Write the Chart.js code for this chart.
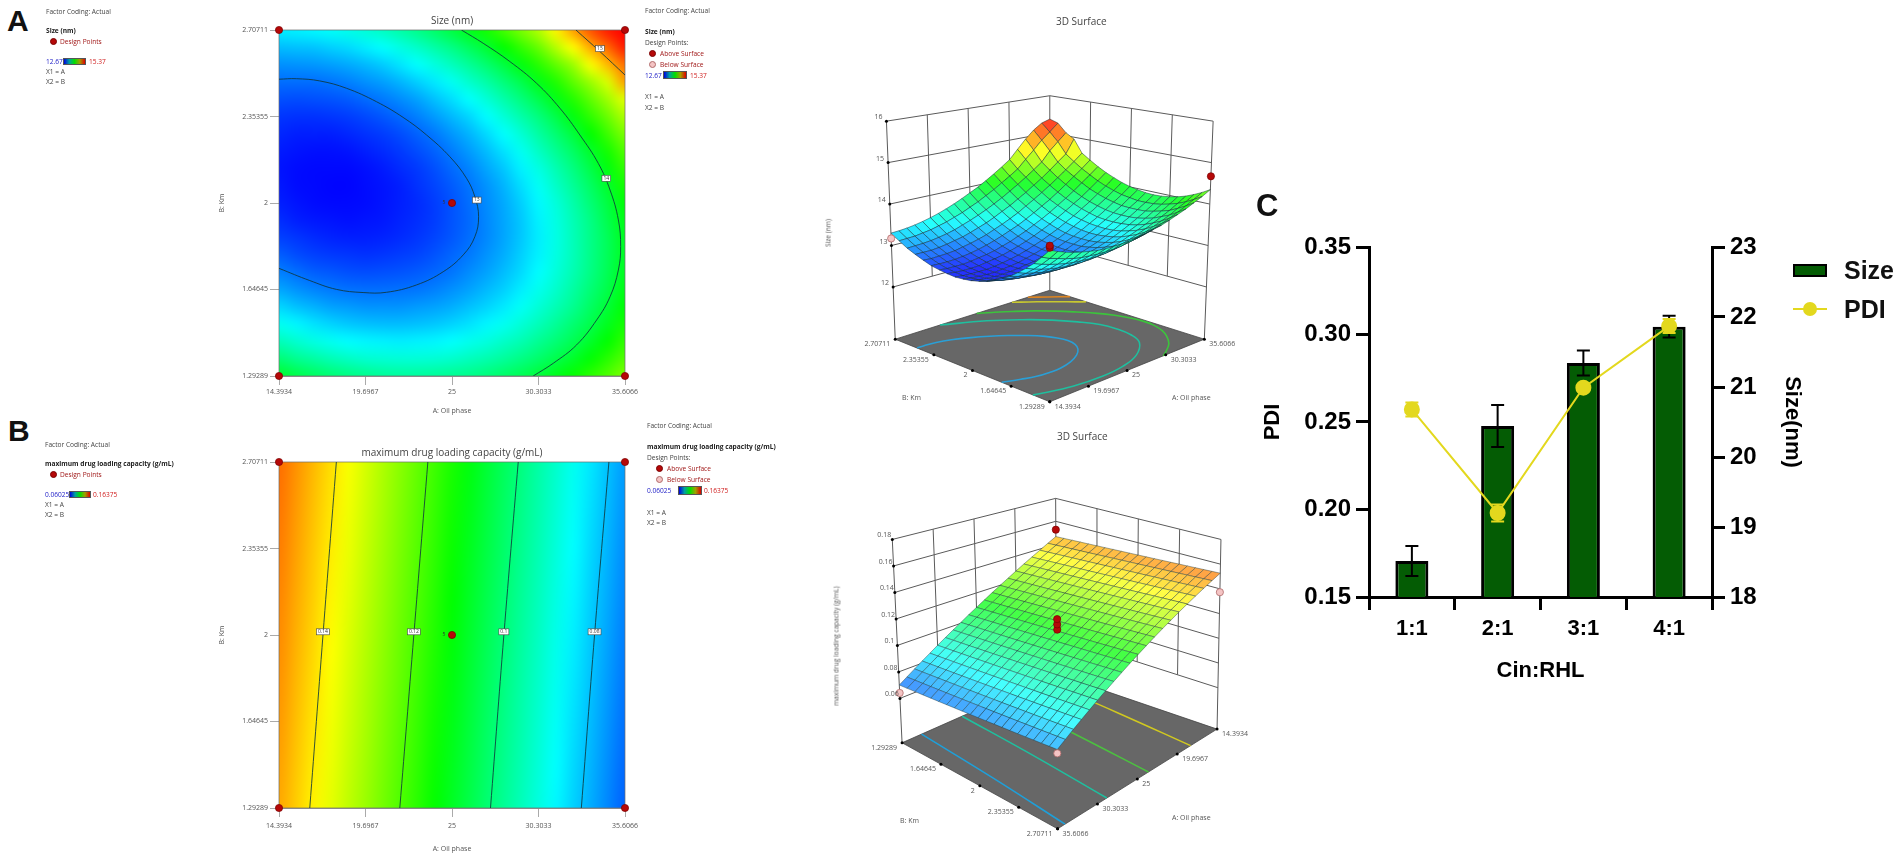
<!DOCTYPE html>
<html>
<head>
<meta charset="utf-8">
<title>Response surfaces and Cin:RHL</title>
<script src="https://cdn.jsdelivr.net/npm/chart.js@4"></script>
<style>
html, body { margin: 0; background: #fff; overflow: hidden; }
body { width: 1902px; height: 860px; position: relative; font-family: "Open Sans", sans-serif; }
canvas { position: absolute; }
.soft { filter: blur(0.45px); }
.t { position: absolute; white-space: nowrap; font-size: 6.6px; color: #444; transform: translateY(-50%); filter: blur(0.3px); }
.big { font-family: "Liberation Sans", sans-serif; font-weight: bold; color: #111; filter: none; }
.rot { transform: translate(-50%, -50%) rotate(-90deg); }
.swatch { position: absolute; }
</style>
</head>
<body>
<script>
// axis ticks shared by all response surface panels
const oilTicks = [14.3934, 19.6967, 25, 30.3033, 35.6066];
const kmTicks = [1.29289, 1.64645, 2, 2.35355, 2.70711];
const designOil = [14.3934, 14.3934, 35.6066, 35.6066, 25];
const designKm = [1.29289, 2.70711, 1.29289, 2.70711, 2];

// Panel C
const ratios = ["1:1", "2:1", "3:1", "4:1"];
const sizeBars = [0.1706, 0.2477, 0.2837, 0.3045];
const sizeBarsErr = [0.0086, 0.012, 0.0071, 0.0062];
const pdiLine = [20.68, 19.2, 20.99, 21.87];
const pdiLineErr = [0.1, 0.12, 0.05, 0.1];

// Size surface, rows go from km low to km high, columns from oil low to oil high
const sizeGrid = [
[13.90,13.83,13.77,13.72,13.68,13.65,13.62,13.61,13.61,13.62,13.64,13.66,13.70,13.75,13.80,13.87,13.95,14.03,14.13,14.23,14.35],
[13.71,13.64,13.59,13.54,13.50,13.47,13.46,13.45,13.45,13.46,13.48,13.52,13.56,13.61,13.67,13.74,13.82,13.91,14.01,14.12,14.24],
[13.53,13.47,13.42,13.38,13.34,13.32,13.31,13.30,13.31,13.32,13.35,13.39,13.43,13.49,13.55,13.63,13.71,13.80,13.91,14.02,14.15],
[13.38,13.32,13.27,13.23,13.20,13.18,13.17,13.17,13.18,13.20,13.23,13.27,13.32,13.38,13.45,13.53,13.62,13.72,13.82,13.94,14.07],
[13.24,13.18,13.14,13.10,13.08,13.06,13.06,13.06,13.08,13.10,13.13,13.18,13.23,13.29,13.37,13.45,13.54,13.64,13.76,13.88,14.01],
[13.11,13.06,13.02,12.99,12.97,12.96,12.96,12.97,12.98,13.01,13.05,13.10,13.16,13.22,13.30,13.39,13.48,13.59,13.71,13.83,13.97],
[13.01,12.96,12.92,12.90,12.88,12.87,12.88,12.89,12.91,12.94,12.98,13.04,13.10,13.17,13.25,13.34,13.44,13.55,13.67,13.80,13.94],
[12.92,12.87,12.84,12.82,12.81,12.80,12.81,12.83,12.85,12.89,12.94,12.99,13.06,13.13,13.22,13.31,13.42,13.53,13.66,13.79,13.93],
[12.84,12.81,12.78,12.76,12.75,12.75,12.76,12.78,12.81,12.85,12.90,12.96,13.03,13.11,13.20,13.30,13.41,13.53,13.66,13.79,13.94],
[12.79,12.75,12.73,12.72,12.71,12.72,12.73,12.76,12.79,12.83,12.89,12.95,13.03,13.11,13.20,13.31,13.42,13.54,13.67,13.82,13.97],
[12.75,12.72,12.70,12.69,12.69,12.70,12.72,12.75,12.78,12.83,12.89,12.96,13.04,13.12,13.22,13.33,13.44,13.57,13.71,13.85,14.01],
[12.73,12.70,12.69,12.68,12.68,12.70,12.72,12.75,12.80,12.85,12.91,12.98,13.06,13.15,13.26,13.37,13.49,13.62,13.76,13.91,14.07],
[12.72,12.70,12.69,12.69,12.69,12.71,12.74,12.78,12.82,12.88,12.95,13.02,13.11,13.20,13.31,13.42,13.55,13.68,13.83,13.98,14.15],
[12.74,12.72,12.71,12.71,12.72,12.75,12.78,12.82,12.87,12.93,13.00,13.08,13.17,13.27,13.38,13.50,13.63,13.76,13.91,14.07,14.24],
[12.77,12.75,12.75,12.75,12.77,12.80,12.83,12.87,12.93,12.99,13.07,13.15,13.25,13.35,13.46,13.59,13.72,13.86,14.02,14.18,14.35],
[12.81,12.80,12.80,12.81,12.83,12.86,12.90,12.95,13.01,13.08,13.16,13.24,13.34,13.45,13.57,13.69,13.83,13.98,14.14,14.30,14.48],
[12.88,12.87,12.88,12.89,12.91,12.95,12.99,13.04,13.10,13.18,13.26,13.35,13.45,13.57,13.69,13.82,13.96,14.11,14.27,14.44,14.62],
[12.96,12.96,12.96,12.98,13.01,13.05,13.09,13.15,13.22,13.29,13.38,13.48,13.58,13.70,13.82,13.96,14.10,14.26,14.43,14.60,14.95],
[13.05,13.06,13.07,13.09,13.12,13.16,13.21,13.28,13.35,13.43,13.52,13.62,13.73,13.85,13.98,14.12,14.27,14.43,14.68,14.88,15.08],
[13.17,13.18,13.19,13.22,13.25,13.30,13.35,13.42,13.49,13.58,13.67,13.78,13.89,14.02,14.15,14.29,14.50,14.70,14.92,15.10,15.30],
[13.30,13.31,13.33,13.36,13.40,13.45,13.51,13.58,13.66,13.75,13.85,13.95,14.07,14.20,14.34,14.49,14.72,14.95,15.15,15.30,15.37]
];

// Drug loading surface, same layout
const loadGrid = [
[.1467,.1429,.1390,.1352,.1314,.1276,.1237,.1199,.1161,.1122,.1084,.1046,.1007,.0969,.0931,.0893,.0854,.0816,.0778,.0739,.0701],
[.1470,.1432,.1393,.1355,.1317,.1279,.1240,.1202,.1164,.1125,.1087,.1049,.1010,.0972,.0934,.0896,.0857,.0819,.0781,.0742,.0704],
[.1473,.1435,.1396,.1358,.1320,.1282,.1243,.1205,.1167,.1128,.1090,.1052,.1013,.0975,.0937,.0899,.0860,.0822,.0784,.0745,.0707],
[.1476,.1438,.1399,.1361,.1323,.1285,.1246,.1208,.1170,.1131,.1093,.1055,.1016,.0978,.0940,.0902,.0863,.0825,.0787,.0748,.0710],
[.1479,.1441,.1402,.1364,.1326,.1288,.1249,.1211,.1173,.1134,.1096,.1058,.1019,.0981,.0943,.0905,.0866,.0828,.0790,.0751,.0713],
[.1482,.1444,.1405,.1367,.1329,.1291,.1252,.1214,.1176,.1137,.1099,.1061,.1022,.0984,.0946,.0908,.0869,.0831,.0793,.0754,.0716],
[.1485,.1447,.1408,.1370,.1332,.1294,.1255,.1217,.1179,.1140,.1102,.1064,.1025,.0987,.0949,.0911,.0872,.0834,.0796,.0757,.0719],
[.1488,.1450,.1411,.1373,.1335,.1297,.1258,.1220,.1182,.1143,.1105,.1067,.1028,.0990,.0952,.0914,.0875,.0837,.0799,.0760,.0722],
[.1491,.1453,.1414,.1376,.1338,.1300,.1261,.1223,.1185,.1146,.1108,.1070,.1031,.0993,.0955,.0917,.0878,.0840,.0802,.0763,.0725],
[.1494,.1456,.1417,.1379,.1341,.1303,.1264,.1226,.1188,.1149,.1111,.1073,.1034,.0996,.0958,.0920,.0881,.0843,.0805,.0766,.0728],
[.1497,.1459,.1420,.1382,.1344,.1306,.1267,.1229,.1191,.1152,.1114,.1076,.1037,.0999,.0961,.0923,.0884,.0846,.0808,.0769,.0731],
[.1500,.1462,.1423,.1385,.1347,.1309,.1270,.1232,.1194,.1155,.1117,.1079,.1040,.1002,.0964,.0926,.0887,.0849,.0811,.0772,.0734],
[.1503,.1465,.1426,.1388,.1350,.1312,.1273,.1235,.1197,.1158,.1120,.1082,.1043,.1005,.0967,.0929,.0890,.0852,.0814,.0775,.0737],
[.1506,.1468,.1429,.1391,.1353,.1315,.1276,.1238,.1200,.1161,.1123,.1085,.1046,.1008,.0970,.0932,.0893,.0855,.0817,.0778,.0740],
[.1509,.1471,.1432,.1394,.1356,.1318,.1279,.1241,.1203,.1164,.1126,.1088,.1049,.1011,.0973,.0935,.0896,.0858,.0820,.0781,.0743],
[.1512,.1474,.1435,.1397,.1359,.1321,.1282,.1244,.1206,.1167,.1129,.1091,.1052,.1014,.0976,.0938,.0899,.0861,.0823,.0784,.0746],
[.1515,.1477,.1438,.1400,.1362,.1324,.1285,.1247,.1209,.1170,.1132,.1094,.1055,.1017,.0979,.0941,.0902,.0864,.0826,.0787,.0749],
[.1518,.1480,.1441,.1403,.1365,.1327,.1288,.1250,.1212,.1173,.1135,.1097,.1058,.1020,.0982,.0944,.0905,.0867,.0829,.0790,.0752],
[.1521,.1483,.1444,.1406,.1368,.1330,.1291,.1253,.1215,.1176,.1138,.1100,.1061,.1023,.0985,.0947,.0908,.0870,.0832,.0793,.0755],
[.1524,.1486,.1447,.1409,.1371,.1333,.1294,.1256,.1218,.1179,.1141,.1103,.1064,.1026,.0988,.0950,.0911,.0873,.0835,.0796,.0758],
[.1527,.1489,.1450,.1412,.1374,.1336,.1297,.1259,.1221,.1182,.1144,.1106,.1067,.1029,.0991,.0953,.0914,.0876,.0838,.0799,.0761]
];

// contour lines
const size13Oil = [14.39,15.46,16.89,18.53,20.37,22.00,23.44,24.87,25.89,26.40,26.63,26.40,25.69,24.46,22.82,20.98,19.55,17.91,16.28,14.39];
const size13Km = [2.506,2.508,2.499,2.469,2.414,2.350,2.278,2.189,2.101,2.026,1.944,1.862,1.788,1.719,1.665,1.635,1.634,1.647,1.683,1.733];
const size14Oil = [25.58,26.91,28.55,30.19,31.62,32.84,33.97,34.69,35.20,35.34,35.20,34.69,33.87,32.64,31.21,29.98];
const size14Km = [2.707,2.653,2.578,2.489,2.387,2.278,2.162,2.053,1.931,1.822,1.726,1.617,1.522,1.420,1.345,1.293];
const size15Oil = [32.60,34.07,35.61];
const size15Km = [2.707,2.619,2.523];
// extra levels only shown on the 3D floor
const size135Oil = [14.39,14.92,18.64,22.35,25.53,28.39,30.94,31.89,32.11,31.89,30.94,29.56,27.55,24.79,20.55];
const size135Km = [1.448,1.434,1.364,1.342,1.364,1.434,1.576,1.717,1.859,2,2.141,2.283,2.424,2.566,2.707];
const size145Oil = [30.41,31.68,32.85,33.91,34.86,35.61];
const size145Km = [2.707,2.636,2.566,2.495,2.424,2.375];

const load14Oil = [17.91,17.09,16.28];
const load12Oil = [23.52,22.66,21.80];
const load10Oil = [29.06,28.18,27.36];
const load08Oil = [34.62,33.74,32.93];
const loadLineKm = [2.70711,2,1.29289];

const sizeZTicks = [12,13,14,15,16];
const loadZTicks = [0.06,0.08,0.1,0.12,0.14,0.16,0.18];

const zip = (xs, ys) => xs.map((x, i) => ({ x: x, y: ys[i] }));

function jet(t) {
  const stops = [[0,0,255],[0,255,255],[0,255,0],[255,255,0],[255,0,0]];
  t = Math.max(0, Math.min(1, t)) * 4;
  const i = Math.min(3, Math.floor(t)), f = t - i;
  return stops[i].map((c, k) => Math.round(c + (stops[i + 1][k] - c) * f));
}

function addCanvas(left, top, w, h, soft) {
  const c = document.createElement("canvas");
  c.width = w; c.height = h;
  c.style.left = left + "px"; c.style.top = top + "px";
  c.style.width = w + "px"; c.style.height = h + "px";
  if (soft) c.className = "soft";
  document.body.appendChild(c);
  return c;
}

function text(x, y, str, css, cls) {
  const d = document.createElement("div");
  d.className = "t" + (cls ? " " + cls : "");
  d.textContent = str;
  d.style.left = x + "px"; d.style.top = y + "px";
  if (css) d.style.cssText += css;
  document.body.appendChild(d);
}

function colorBar(x, y, w, h) {
  const d = document.createElement("div");
  d.className = "swatch";
  d.style.cssText = "left:" + x + "px;top:" + y + "px;width:" + w + "px;height:" + h + "px;box-sizing:border-box;border:.5px solid #555;" +
    "background:linear-gradient(90deg,#0000e0,#00a0a0 25%,#00e000 50%,#a0a000 75%,#e00000)";
  document.body.appendChild(d);
}

function dot(x, y, fill, edge) {
  const d = document.createElement("div");
  d.className = "swatch";
  d.style.cssText = "left:" + (x - 3.5) + "px;top:" + (y - 3.5) + "px;width:7px;height:7px;box-sizing:border-box;border-radius:50%;background:" + fill + ";border:.6px solid " + edge;
  document.body.appendChild(d);
}

// heat map painted from the grid, stretched between the axis limits
function heatPlugin(grid, lo, hi) {
  return {
    id: "heat",
    beforeDatasetsDraw(chart) {
      const n = grid.length, off = document.createElement("canvas");
      off.width = n; off.height = n;
      const oc = off.getContext("2d"), img = oc.createImageData(n, n);
      grid.forEach((row, r) => row.forEach((v, c) => {
        const rgb = jet((v - lo) / (hi - lo)), p = ((n - 1 - r) * n + c) * 4;
        img.data[p] = rgb[0]; img.data[p + 1] = rgb[1]; img.data[p + 2] = rgb[2]; img.data[p + 3] = 255;
      }));
      oc.putImageData(img, 0, 0);
      const a = chart.chartArea, ctx = chart.ctx;
      ctx.save();
      ctx.imageSmoothingEnabled = true;
      ctx.imageSmoothingQuality = "high";
      ctx.drawImage(off, 0.5, 0.5, n - 1, n - 1, a.left, a.top, a.width, a.height);
      ctx.strokeStyle = "rgba(110,110,110,.7)";
      ctx.lineWidth = 1;
      ctx.strokeRect(a.left, a.top, a.width, a.height);
      ctx.restore();
    }
  };
}

function contourLabels(items) {
  return {
    id: "contourLabels",
    afterDatasetsDraw(chart) {
      const ctx = chart.ctx, sx = chart.scales.x, sy = chart.scales.y;
      ctx.save();
      ctx.textAlign = "center"; ctx.textBaseline = "middle";
      ctx.font = '5px "Open Sans"';
      items.forEach(l => {
        const x = sx.getPixelForValue(l.oil), y = sy.getPixelForValue(l.km);
        const w = ctx.measureText(l.text).width + 3;
        ctx.fillStyle = "#fff"; ctx.strokeStyle = "#444"; ctx.lineWidth = 0.6;
        ctx.fillRect(x - w / 2, y - 3, w, 6); ctx.strokeRect(x - w / 2, y - 3, w, 6);
        ctx.fillStyle = "#333"; ctx.fillText(l.text, x, y);
      });
      // replicate count next to the centre point
      ctx.fillStyle = "#333";
      ctx.fillText("5", sx.getPixelForValue(25) - 8, sy.getPixelForValue(2));
      ctx.restore();
    }
  };
}

function contourChart(cfg) {
  const lineSets = cfg.lines.map(p => ({
    data: p, showLine: true, pointRadius: 0, borderColor: "rgba(15,55,60,.85)", borderWidth: 1, tension: 0.4
  }));
  const tickFont = { family: "Open Sans", size: 7 };
  const gridOpts = { drawOnChartArea: false, tickLength: 9, color: "#aaa", lineWidth: 1 };
  new Chart(addCanvas(200, cfg.top, 445, cfg.height, true), {
    type: "scatter",
    data: { datasets: [{
      data: zip(designOil, designKm), pointRadius: 3.6, backgroundColor: "#b50808", borderColor: "#7a0000", borderWidth: 0.7, clip: false
    }].concat(lineSets) },
    options: {
      responsive: false, animation: false, events: [],
      layout: { padding: { right: 20 } },
      plugins: {
        legend: { display: false }, tooltip: { enabled: false },
        title: { display: true, text: cfg.title, fullSize: false, color: "#444", font: { family: "Open Sans", size: 10, weight: "normal" }, padding: { top: 15, bottom: 3 } }
      },
      scales: {
        x: {
          type: "linear", min: oilTicks[0], max: oilTicks[4],
          afterBuildTicks: s => { s.ticks = oilTicks.map(v => ({ value: v })); },
          afterFit: s => { s.height = cfg.height - 376; },
          ticks: { callback: v => String(v), font: tickFont, color: "#555", maxRotation: 0, autoSkip: false, padding: cfg.tickPad },
          grid: gridOpts, border: { color: "#999" },
          title: { display: true, text: "A: Oil phase", color: "#555", font: tickFont, padding: { bottom: cfg.titlePad } }
        },
        y: {
          type: "linear", min: kmTicks[0], max: kmTicks[4],
          afterBuildTicks: s => { s.ticks = kmTicks.map(v => ({ value: v })); },
          afterFit: s => { s.width = 79; },
          ticks: { callback: v => String(v), font: tickFont, color: "#555", autoSkip: false, padding: 2 },
          grid: gridOpts, border: { color: "#999" },
          title: { display: true, text: "B: Km", color: "#555", font: tickFont, padding: { top: 18 } }
        }
      }
    },
    plugins: [heatPlugin(cfg.grid, cfg.lo, cfg.hi), contourLabels(cfg.labels)]
  });
}

contourChart({
  top: 0, height: 420, title: "Size (nm)", grid: sizeGrid, lo: 12.67, hi: 15.37, tickPad: 3, titlePad: 5,
  lines: [zip(size13Oil, size13Km), zip(size14Oil, size14Km), zip(size15Oil, size15Km)],
  labels: [{ oil: 26.52, km: 2.012, text: "13" }, { oil: 34.46, km: 2.101, text: "14" }, { oil: 34.07, km: 2.631, text: "15" }]
});
contourChart({
  top: 432, height: 424, title: "maximum drug loading capacity (g/mL)", grid: loadGrid, lo: 0.06025, hi: 0.16375, tickPad: 5, titlePad: 3,
  lines: [zip(load14Oil, loadLineKm), zip(load12Oil, loadLineKm), zip(load10Oil, loadLineKm), zip(load08Oil, loadLineKm)],
  labels: [{ oil: 17.09, km: 2.013, text: "0.14" }, { oil: 22.66, km: 2.013, text: "0.12" }, { oil: 28.18, km: 2.013, text: "0.1" }, { oil: 33.74, km: 2.013, text: "0.08" }]
});

// 3D panel: walls, floor and surface go through one projection into a plain scatter chart
function surfaceChart(cfg) {
  const cam = cfg.cam;
  const lerp = (p, q, t) => [p[0] + (q[0] - p[0]) * t, p[1] + (q[1] - p[1]) * t];
  const bi = (c, u, v) => lerp(lerp(c.c00, c.c10, u), lerp(c.c01, c.c11, u), v);
  function project(oil, km, z) {
    const u = (oil - oilTicks[0]) / (oilTicks[4] - oilTicks[0]);
    const v = (km - kmTicks[0]) / (kmTicks[4] - kmTicks[0]);
    const p = lerp(bi(cam.floor, u, v), bi(cam.top, u, v), (z - cam.zFloor) / (cam.zTop - cam.zFloor));
    return { x: p[0], y: p[1] };
  }
  const n = cfg.grid.length;
  const oilAt = i => oilTicks[0] + (oilTicks[4] - oilTicks[0]) * i / (n - 1);
  const kmAt = j => kmTicks[0] + (kmTicks[4] - kmTicks[0]) * j / (n - 1);
  const wire = (pts, color, width) => ({ data: pts, showLine: true, pointRadius: 0, borderColor: color, borderWidth: width || 1 });

  // surface cells, nearest first since Chart.js paints the first dataset last
  const quads = [];
  for (let j = 0; j < n - 1; j++) for (let i = 0; i < n - 1; i++) {
    const g = cfg.grid;
    const mean = (g[j][i] + g[j][i + 1] + g[j + 1][i] + g[j + 1][i + 1]) / 4;
    const rgb = jet((mean - cfg.lo) / (cfg.hi - cfg.lo)).map(c => Math.round(c * (1 - cfg.pale) + 255 * cfg.pale));
    const dist = Math.abs(oilAt(i) - cfg.back[0]) / 21.2132 + Math.abs(kmAt(j) - cfg.back[1]) / 1.41422;
    quads.push({
      dist: dist,
      set: {
        data: [project(oilAt(i), kmAt(j), g[j][i]), project(oilAt(i + 1), kmAt(j), g[j][i + 1]),
               project(oilAt(i + 1), kmAt(j + 1), g[j + 1][i + 1]), project(oilAt(i), kmAt(j + 1), g[j + 1][i]),
               project(oilAt(i), kmAt(j), g[j][i])],
        showLine: true, pointRadius: 0, fill: "shape", backgroundColor: "rgb(" + rgb.join(",") + ")",
        borderColor: cfg.mesh, borderWidth: 0.6
      }
    });
  }
  quads.sort((a, b) => b.dist - a.dist);

  const zTop = cfg.zTicks[cfg.zTicks.length - 1], zLow = cfg.zTicks[0];
  const walls = [];
  const wallColor = "#5a5a5a";
  cfg.zTicks.forEach(z => {
    walls.push(wire([project(cfg.left[0], cfg.left[1], z), project(cfg.back[0], cfg.back[1], z), project(cfg.right[0], cfg.right[1], z)], wallColor));
  });
  oilTicks.slice(1, 4).forEach(o => walls.push(wire([project(o, cfg.back[1], zLow), project(o, cfg.back[1], zTop)], wallColor)));
  kmTicks.slice(1, 4).forEach(k => walls.push(wire([project(cfg.back[0], k, zLow), project(cfg.back[0], k, zTop)], wallColor)));
  [cfg.left, cfg.back, cfg.right].forEach(c => walls.push(wire([project(c[0], c[1], cam.zFloor), project(c[0], c[1], zTop)], wallColor)));

  const floorSet = {
    data: [cfg.left, cfg.front, cfg.right, cfg.back, cfg.left].map(c => project(c[0], c[1], cam.zFloor)),
    showLine: true, pointRadius: 0, fill: "shape", backgroundColor: "#676767", borderColor: "#444", borderWidth: 0.8
  };
  const floorLines = cfg.floorLines.map(l => ({
    data: zip(l.oil, l.km).map(p => project(p.x, p.y, cam.zFloor)),
    showLine: true, pointRadius: 0, borderColor: l.color, borderWidth: 1.6, tension: 0.4
  }));

  const tickDots = {
    data: oilTicks.map(o => project(o, cfg.front[1], cam.zFloor))
      .concat(kmTicks.map(k => project(cfg.front[0], k, cam.zFloor)))
      .concat(cfg.zTicks.map(z => project(cfg.left[0], cfg.left[1], z))),
    pointRadius: 1.5, backgroundColor: "#000", borderWidth: 0
  };
  const above = { data: cfg.above.map(p => project(p[0], p[1], p[2])), pointRadius: 3.6, backgroundColor: "#b50808", borderColor: "#7a0000", borderWidth: 0.7, clip: false };
  const below = { data: cfg.below.map(p => project(p[0], p[1], p[2])), pointRadius: 3.6, backgroundColor: "#f4c4c4", borderColor: "#b06a6a", borderWidth: 0.8, clip: false };

  const labels = {
    id: "axisText",
    afterDraw(chart) {
      const ctx = chart.ctx, sx = chart.scales.x, sy = chart.scales.y;
      const put = (p, str, dx, dy, align) => {
        ctx.textAlign = align;
        ctx.fillText(str, sx.getPixelForValue(p.x) + dx, sy.getPixelForValue(p.y) + dy);
      };
      ctx.save();
      ctx.font = '7px "Open Sans"'; ctx.fillStyle = "#555"; ctx.textBaseline = "middle";
      cfg.zTicks.forEach(z => put(project(cfg.left[0], cfg.left[1], z), String(z), -8, -4, "center"));
      kmTicks.forEach(k => put(project(cfg.front[0], k, cam.zFloor), String(k), -5, 5, "right"));
      oilTicks.forEach(o => put(project(o, cfg.front[1], cam.zFloor), String(o), 5, 5, "left"));
      ctx.restore();
    }
  };

  new Chart(addCanvas(820, cfg.top, 440, cfg.height, true), {
    type: "scatter",
    data: { datasets: [above, below, tickDots].concat(quads.map(q => q.set), floorLines, [floorSet], walls) },
    options: {
      responsive: false, animation: false, events: [],
      plugins: { legend: { display: false }, tooltip: { enabled: false } },
      scales: {
        x: { type: "linear", display: false, min: 820, max: 1260 },
        y: { type: "linear", display: false, reverse: true, min: cfg.top, max: cfg.top + cfg.height }
      }
    },
    plugins: [labels]
  });
}

surfaceChart({
  top: 0, height: 432, grid: sizeGrid, lo: 12.67, hi: 15.37, zTicks: sizeZTicks, mesh: "rgba(15,45,50,.8)", pale: 0.15,
  cam: {
    zFloor: 10.74, zTop: 16,
    floor: { c00: [1050,406], c10: [1208,342], c01: [892,342], c11: [1050,292] },
    top: { c00: [1050,148], c10: [1217,119], c01: [883,119], c11: [1050,93] }
  },
  left: [14.3934,2.70711], back: [35.6066,2.70711], right: [35.6066,1.29289], front: [14.3934,1.29289],
  floorLines: [
    { oil: size13Oil, km: size13Km, color: "#2a9fd6" }, { oil: size135Oil, km: size135Km, color: "#1fbf9f" },
    { oil: size14Oil, km: size14Km, color: "#3cc43c" }, { oil: size145Oil, km: size145Km, color: "#c8c830" },
    { oil: size15Oil, km: size15Km, color: "#dd8420" }
  ],
  above: [[35.6066,1.29289,14.67],[25,2,13.0],[25,2,13.05]],
  below: [[14.3934,2.70711,13.17]]
});

surfaceChart({
  top: 432, height: 428, grid: loadGrid, lo: 0.06025, hi: 0.16375, zTicks: loadZTicks, mesh: "rgba(30,55,60,.7)", pale: 0.27,
  cam: {
    zFloor: 0.0265, zTop: 0.18,
    floor: { c00: [1057,675], c10: [899,745], c01: [1221,731], c11: [1058,833] },
    top: { c00: [1056,495], c10: [889,537], c01: [1225,537], c11: [1057,582] }
  },
  left: [35.6066,1.29289], back: [14.3934,1.29289], right: [14.3934,2.70711], front: [35.6066,2.70711],
  floorLines: [
    { oil: load08Oil, km: loadLineKm, color: "#1f9fd8" }, { oil: load10Oil, km: loadLineKm, color: "#1fbf9f" },
    { oil: load12Oil, km: loadLineKm, color: "#4cc040" }, { oil: load14Oil, km: loadLineKm, color: "#d0c820" }
  ],
  above: [[14.3934,1.29289,0.1527],[25,2,0.1125],[25,2,0.1165],[25,2,0.1205]],
  below: [[35.6066,1.29289,0.0641],[35.6066,2.70711,0.0737],[14.3934,2.70711,0.1373]]
});

// Panel C, error bars are drawn right after their own dataset
const errorBars = {
  id: "errorBars",
  afterDatasetDraw(chart, args) {
    const ds = chart.data.datasets[args.index];
    const meta = chart.getDatasetMeta(args.index), scale = chart.scales[ds.yAxisID], ctx = chart.ctx;
    ctx.save();
    ctx.strokeStyle = ds.errColor; ctx.lineWidth = 2;
    ds.data.forEach((v, i) => {
      const x = meta.data[i].x, hi = scale.getPixelForValue(v + ds.err[i]), lo = scale.getPixelForValue(v - ds.err[i]);
      ctx.beginPath();
      ctx.moveTo(x, hi); ctx.lineTo(x, lo);
      ctx.moveTo(x - 6.5, hi); ctx.lineTo(x + 6.5, hi);
      ctx.moveTo(x - 6.5, lo); ctx.lineTo(x + 6.5, lo);
      ctx.stroke();
    });
    ctx.restore();
  }
};

const boldTick = { family: "Liberation Sans", size: 24, weight: "bold" };
const boldTitle = { family: "Liberation Sans", size: 22, weight: "bold" };
const inkGrid = { drawOnChartArea: false, tickLength: 13, lineWidth: 3, color: "#000" };

new Chart(addCanvas(1240, 200, 570, 500), {
  data: {
    labels: ratios,
    datasets: [
      { type: "line", label: "PDI", data: pdiLine, err: pdiLineErr, errColor: "#e3d81e", yAxisID: "y1", order: 0,
        borderColor: "#e3d81e", backgroundColor: "#e3d81e", borderWidth: 2, pointRadius: 7, tension: 0 },
      { type: "bar", label: "Size", data: sizeBars, err: sizeBarsErr, errColor: "#000", yAxisID: "y", order: 1,
        backgroundColor: "#045c04", borderColor: "#000", borderWidth: 3, barPercentage: 0.385, categoryPercentage: 1 }
    ]
  },
  options: {
    responsive: false, animation: false, events: [],
    layout: { padding: { top: 47 } },
    plugins: { legend: { display: false }, tooltip: { enabled: false } },
    scales: {
      x: {
        afterFit: s => { s.height = 103; },
        ticks: { font: { family: "Liberation Sans", size: 22, weight: "bold" }, color: "#000", padding: 6 },
        grid: inkGrid, border: { color: "#000", width: 3 },
        title: { display: true, text: "Cin:RHL", color: "#000", font: boldTitle, padding: { bottom: 16 } }
      },
      y: {
        position: "left", min: 0.15, max: 0.35,
        afterFit: s => { s.width = 129; },
        ticks: { stepSize: 0.05, callback: v => v.toFixed(2), font: boldTick, color: "#000", padding: 5 },
        grid: inkGrid, border: { color: "#000", width: 3 },
        title: { display: true, text: "PDI", color: "#000", font: boldTitle, padding: { top: 20 } }
      },
      y1: {
        position: "right", min: 18, max: 23,
        afterFit: s => { s.width = 98; },
        ticks: { stepSize: 1, font: boldTick, color: "#000", padding: 5 },
        grid: inkGrid, border: { color: "#000", width: 3 },
        title: { display: true, text: "Size(nm)", color: "#000", font: boldTitle, padding: { top: 5 } }
      }
    }
  },
  plugins: [errorBars]
});

// free text: panel letters, side legends, 3D titles
text(7, 21, "A", "font-size:30px", "big");
text(8, 431, "B", "font-size:30px", "big");
text(1256, 206, "C", "font-size:31px", "big");

const redText = "color:#a01818", blueText = "color:#2222c8", redNum = "color:#d02020";

text(46, 11, "Factor Coding: Actual");
text(46, 30, "Size (nm)", "font-weight:bold;color:#222");
dot(53, 41, "#b50808", "#7a0000");
text(60, 41, "Design Points", redText);
text(46, 61, "12.67", blueText);
colorBar(63, 58, 23, 7);
text(89, 61, "15.37", redNum);
text(46, 71, "X1 = A");
text(46, 81, "X2 = B");

text(645, 10, "Factor Coding: Actual");
text(645, 31, "Size (nm)", "font-weight:bold;color:#222");
text(645, 42, "Design Points:");
dot(652, 53, "#b50808", "#7a0000");
text(660, 53, "Above Surface", redText);
dot(652, 64, "#f4c4c4", "#b06a6a");
text(660, 64, "Below Surface", redText);
text(645, 75, "12.67", blueText);
colorBar(663, 71, 24, 8);
text(690, 75, "15.37", redNum);
text(645, 96, "X1 = A");
text(645, 107, "X2 = B");

text(45, 444, "Factor Coding: Actual");
text(45, 463, "maximum drug loading capacity (g/mL)", "font-weight:bold;color:#222");
dot(53, 474, "#b50808", "#7a0000");
text(60, 474, "Design Points", redText);
text(45, 494, "0.06025", blueText);
colorBar(69, 491, 22, 7);
text(93, 494, "0.16375", redNum);
text(45, 504, "X1 = A");
text(45, 514, "X2 = B");

text(647, 425, "Factor Coding: Actual");
text(647, 446, "maximum drug loading capacity (g/mL)", "font-weight:bold;color:#222");
text(647, 457, "Design Points:");
dot(659, 468, "#b50808", "#7a0000");
text(667, 468, "Above Surface", redText);
dot(659, 479, "#f4c4c4", "#b06a6a");
text(667, 479, "Below Surface", redText);
text(647, 490, "0.06025", blueText);
colorBar(678, 486, 24, 9);
text(704, 490, "0.16375", redNum);
text(647, 512, "X1 = A");
text(647, 522, "X2 = B");

text(1056, 21, "3D Surface", "font-size:10px");
text(1057, 436, "3D Surface", "font-size:10px");
text(828, 233, "Size (nm)", "font-size:6.6px;color:#555", "rot");
text(836, 646, "maximum drug loading capacity (g/mL)", "font-size:6.6px;color:#555", "rot");
text(902, 397, "B: Km", "font-size:7px;color:#555");
text(1172, 397, "A: Oil phase", "font-size:7px;color:#555");
text(900, 820, "B: Km", "font-size:7px;color:#555");
text(1172, 817, "A: Oil phase", "font-size:7px;color:#555");

// Panel C legend
const legendFont = "font-size:25px";
const box = document.createElement("div");
box.className = "swatch";
box.style.cssText = "left:1793px;top:264px;width:34px;height:13px;box-sizing:border-box;background:#045c04;border:2px solid #000";
document.body.appendChild(box);
text(1844, 270, "Size", legendFont, "big");
const ln = document.createElement("div");
ln.className = "swatch";
ln.style.cssText = "left:1793px;top:308px;width:34px;height:2px;background:#e3d81e";
document.body.appendChild(ln);
const pd = document.createElement("div");
pd.className = "swatch";
pd.style.cssText = "left:1803px;top:302px;width:14px;height:14px;border-radius:50%;background:#e3d81e";
document.body.appendChild(pd);
text(1844, 309, "PDI", legendFont, "big");
</script>
</body>
</html>
